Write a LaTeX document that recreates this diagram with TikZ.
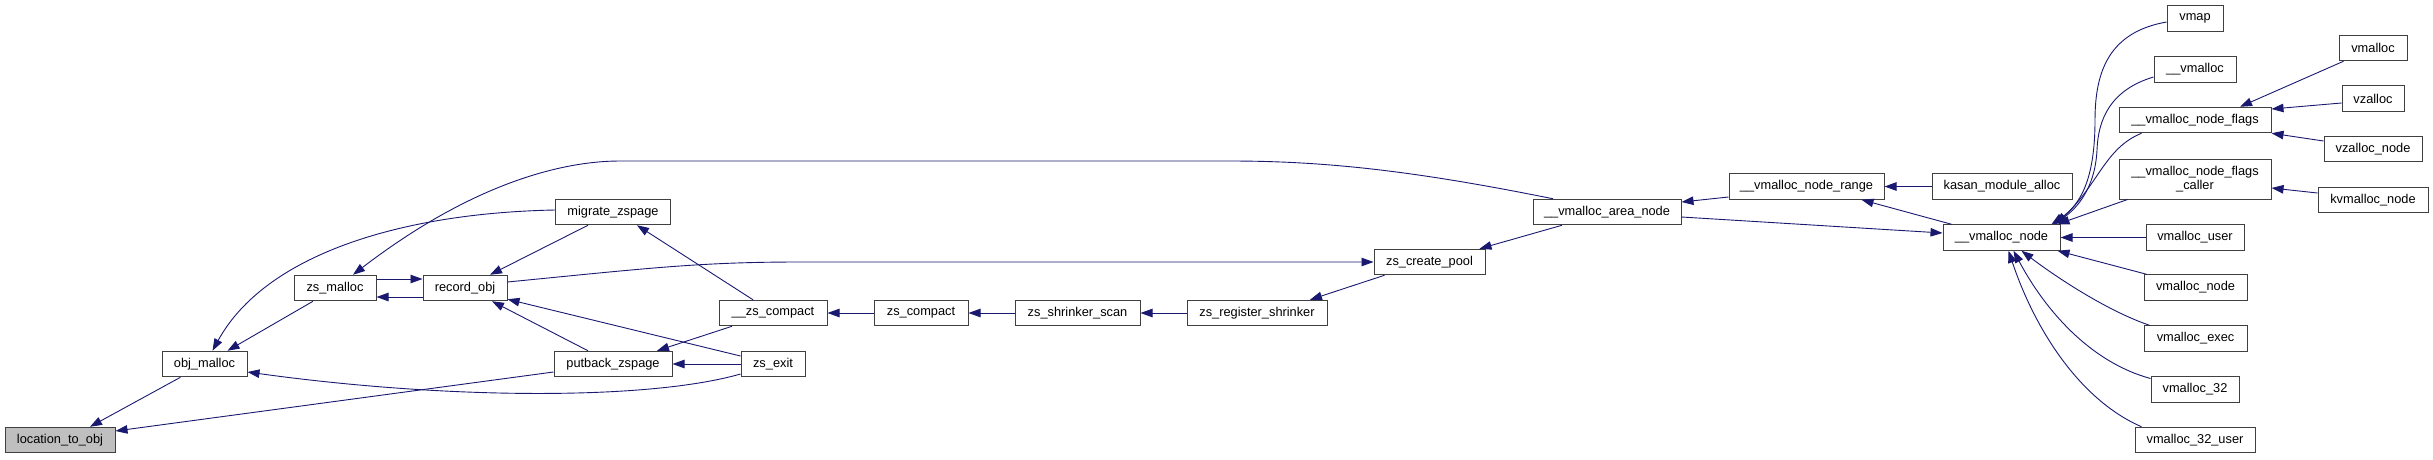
\documentclass[tikz,border=0pt]{standalone}
\usepackage{fontspec}
\setmainfont{Liberation Sans}
\usetikzlibrary{arrows.meta,calc}
\definecolor{edgeblue}{HTML}{191970}
\definecolor{boxgray}{HTML}{BFBFBF}
\begin{document}
\begin{tikzpicture}[x=1pt,y=-1pt,
  fn/.style={draw=black!75, line width=1pt, fill=white, rectangle, inner sep=0pt,
    minimum height=25.5pt, font=\fontsize{12.8}{13.7}\selectfont, align=center},
  e/.style={draw=edgeblue, line width=0.9pt, -{Triangle[length=12pt,width=8.5pt]}},
]
\useasboundingbox (0,0) rectangle (2433,459);
% nodes
\node[fn, fill=boxgray, minimum width=110pt] (loc) at (60,440) {location\_to\_obj};
\node[fn, minimum width=85pt] (objm) at (204.5,364) {obj\_malloc};
\node[fn, minimum width=82pt] (zsm) at (335,288) {zs\_malloc};
\node[fn, minimum width=84pt] (rec) at (465,288) {record\_obj};
\node[fn, minimum width=115pt] (mig) at (613,212) {migrate\_zspage};
\node[fn, minimum width=118pt] (put) at (613,364) {putback\_zspage};
\node[fn, minimum width=108pt] (zcp) at (773,313) {\_\_zs\_compact};
\node[fn, minimum width=64pt] (zexit) at (773,364) {zs\_exit};
\node[fn, minimum width=94pt] (zcomp) at (921,313) {zs\_compact};
\node[fn, minimum width=125pt] (shr) at (1077.5,313) {zs\_shrinker\_scan};
\node[fn, minimum width=140pt] (reg) at (1257,313) {zs\_register\_shrinker};
\node[fn, minimum width=111pt] (pool) at (1429.5,262) {zs\_create\_pool};
\node[fn, minimum width=148pt] (van) at (1607,212) {\_\_vmalloc\_area\_node};
\node[fn, minimum width=155pt] (vnr) at (1806.5,186.5) {\_\_vmalloc\_node\_range};
\node[fn, minimum width=140pt] (kasan) at (2002,186.5) {kasan\_module\_alloc};
\node[fn, minimum width=117pt] (vn) at (2001.5,237.5) {\_\_vmalloc\_node};
\node[fn, minimum width=56pt] (vmap) at (2195,18.5) {vmap};
\node[fn, minimum width=82pt] (uvm) at (2195,69.5) {\_\_vmalloc};
\node[fn, minimum width=152pt] (vnf) at (2195,120) {\_\_vmalloc\_node\_flags};
\node[fn, minimum width=152pt, minimum height=40pt] (vnfc) at (2195,179) {\_\_vmalloc\_node\_flags\\\_caller};
\node[fn, minimum width=98pt] (vuser) at (2195,237.5) {vmalloc\_user};
\node[fn, minimum width=103pt] (vnode) at (2195.5,287.5) {vmalloc\_node};
\node[fn, minimum width=103pt] (vexec) at (2195.5,338.5) {vmalloc\_exec};
\node[fn, minimum width=88pt] (v32) at (2195,389.5) {vmalloc\_32};
\node[fn, minimum width=120pt] (v32u) at (2195,440) {vmalloc\_32\_user};
\node[fn, minimum width=68pt] (vmalloc) at (2373,48) {vmalloc};
\node[fn, minimum width=62pt] (vzalloc) at (2373,98.5) {vzalloc};
\node[fn, minimum width=98pt] (vzn) at (2373,149) {vzalloc\_node};
\node[fn, minimum width=110pt] (kvn) at (2373,200) {kvmalloc\_node};
% edges
\draw[e] ($(objm.south)+(-24,0)$) -- ($(loc.north)+(30,0)$);
\draw[e] ($(put.west)+(0,8)$) -- ($(loc.east)+(0,-9)$);
\draw[e] ($(zsm.south)+(-22,0)$) -- ($(objm.north)+(23,0)$);
\draw[e] ($(mig.west)+(0,-2)$) .. controls (400,213) and (265,255) .. ($(objm.north)+(8,0)$);
\draw[e] ($(van.north)+(-54,0)$) .. controls (1420,172) and (1330,161) .. (1230,161) -- (620,161) .. controls (560,161) and (470,185) .. ($(zsm.north)+(18,0)$);
\draw[e] ($(zsm.east)+(0,-9)$) -- ($(rec.west)+(0,-9)$);
\draw[e] ($(rec.west)+(0,9)$) -- ($(zsm.east)+(0,9)$);
\draw[e] ($(mig.south)+(-25,0)$) -- ($(rec.north)+(25,0)$);
\draw[e] ($(put.north)+(-25,0)$) -- ($(rec.south)+(27,0)$);
\draw[e] ($(zexit.west)+(0,-8)$) -- ($(rec.south east)+(0,-2)$);
\draw[e] ($(rec.east)+(0,-6)$) .. controls (650,268) and (700,262) .. (800,262) -- (pool.west);
\draw[e] ($(zcp.north)+(-20,0)$) -- ($(mig.south)+(24,0)$);
\draw[e] ($(zcp.south)+(-41,0)$) -- ($(put.north)+(44,0)$);
\draw[e] (zexit.west) -- (put.east);
\draw[e] ($(zexit.west)+(0,10)$) .. controls (650,400) and (450,400) .. ($(objm.east)+(0,8)$);
\draw[e] (zcomp) -- (zcp);
\draw[e] (shr) -- (zcomp);
\draw[e] (reg) -- (shr);
\draw[e] ($(pool.south)+(-45,0)$) -- ($(reg.north)+(53,0)$);
\draw[e] ($(van.south)+(-45,0)$) -- ($(pool.north)+(50,0)$);
\draw[e] ($(vnr.west)+(0,10.5)$) -- ($(van.east)+(0,-10)$);
\draw[e] ($(van.east)+(0,5)$) -- ($(vn.west)+(0,-4.5)$);
\draw[e] ($(vn.north)+(-50,0)$) -- ($(vnr.south)+(55,0)$);
\draw[e] (kasan) -- (vnr);
\draw[e] ($(vmap.west)+(0,3.5)$) .. controls (2110,32) and (2095,70) .. (2095,120) .. controls (2095,180) and (2080,205) .. ($(vn.north)+(50,0)$);
\draw[e] ($(uvm.west)+(0,7.5)$) .. controls (2110,90) and (2098,120) .. (2097,150) .. controls (2095,190) and (2075,210) .. ($(vn.north)+(52,0)$);
\draw[e] ($(vnf.south west)+(23,0)$) .. controls (2105,148) and (2098,185) .. ($(vn.north)+(54,0)$);
\draw[e] ($(vnfc.south west)+(9,0)$) -- ($(vn.north east)+(-3,0)$);
\draw[e] (vuser) -- (vn);
\draw[e] ($(vnode.north west)+(3,0)$) -- ($(vn.south east)+(-3,0)$);
\draw[e] ($(vexec.north west)+(6,0)$) .. controls (2110,312) and (2060,280) .. ($(vn.south)+(20,0)$);
\draw[e] ($(v32.west)+(0,-11)$) .. controls (2090,362) and (2045,310) .. ($(vn.south)+(12,0)$);
\draw[e] ($(v32u.north west)+(7,0)$) .. controls (2080,400) and (2035,330) .. ($(vn.south)+(7,0)$);
\draw[e] ($(vmalloc.south west)+(5,0)$) -- ($(vnf.north)+(45,0)$);
\draw[e] ($(vzalloc.west)+(0,4.5)$) -- ($(vnf.east)+(0,-11)$);
\draw[e] ($(vzn.west)+(0,-8)$) -- (vnf.south east);
\draw[e] ($(kvn.west)+(0,-7)$) -- ($(vnfc.east)+(0,9)$);
\end{tikzpicture}
\end{document}
